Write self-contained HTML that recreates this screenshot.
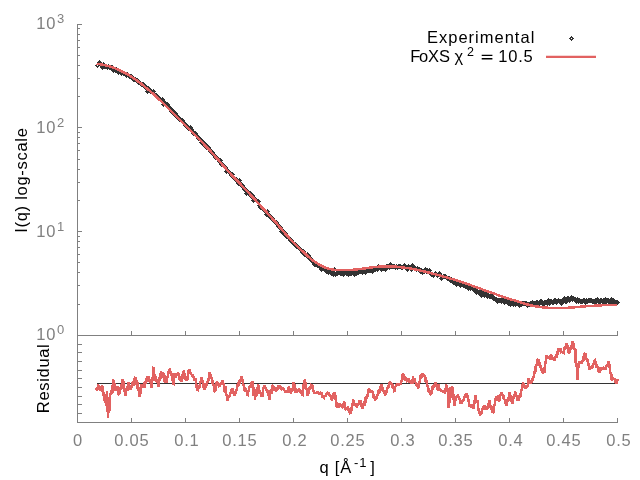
<!DOCTYPE html>
<html><head><meta charset="utf-8"><title>FoXS fit</title>
<style>html,body{margin:0;padding:0;background:#fff;}body{width:640px;height:480px;overflow:hidden;font-family:"Liberation Sans",sans-serif;}svg{display:block;will-change:transform;}</style>
</head><body>
<svg width="640" height="480" viewBox="0 0 640 480" font-family="'Liberation Sans', sans-serif">
<rect width="640" height="480" fill="#ffffff"/>
<g shape-rendering="crispEdges"><line x1="77.50" y1="23.70" x2="77.50" y2="422.80" stroke="#808080" stroke-width="1"/><line x1="77.00" y1="335.30" x2="618.00" y2="335.30" stroke="#808080" stroke-width="1"/><line x1="77.00" y1="422.30" x2="618.00" y2="422.30" stroke="#808080" stroke-width="1"/><line x1="77.50" y1="335.30" x2="82.00" y2="335.30" stroke="#808080" stroke-width="1"/><line x1="77.50" y1="304.08" x2="80.00" y2="304.08" stroke="#808080" stroke-width="1"/><line x1="77.50" y1="285.82" x2="80.00" y2="285.82" stroke="#808080" stroke-width="1"/><line x1="77.50" y1="272.87" x2="80.00" y2="272.87" stroke="#808080" stroke-width="1"/><line x1="77.50" y1="262.82" x2="80.00" y2="262.82" stroke="#808080" stroke-width="1"/><line x1="77.50" y1="254.61" x2="80.00" y2="254.61" stroke="#808080" stroke-width="1"/><line x1="77.50" y1="247.66" x2="80.00" y2="247.66" stroke="#808080" stroke-width="1"/><line x1="77.50" y1="241.65" x2="80.00" y2="241.65" stroke="#808080" stroke-width="1"/><line x1="77.50" y1="236.35" x2="80.00" y2="236.35" stroke="#808080" stroke-width="1"/><line x1="77.50" y1="231.60" x2="82.00" y2="231.60" stroke="#808080" stroke-width="1"/><line x1="77.50" y1="200.38" x2="80.00" y2="200.38" stroke="#808080" stroke-width="1"/><line x1="77.50" y1="182.12" x2="80.00" y2="182.12" stroke="#808080" stroke-width="1"/><line x1="77.50" y1="169.17" x2="80.00" y2="169.17" stroke="#808080" stroke-width="1"/><line x1="77.50" y1="159.12" x2="80.00" y2="159.12" stroke="#808080" stroke-width="1"/><line x1="77.50" y1="150.91" x2="80.00" y2="150.91" stroke="#808080" stroke-width="1"/><line x1="77.50" y1="143.96" x2="80.00" y2="143.96" stroke="#808080" stroke-width="1"/><line x1="77.50" y1="137.95" x2="80.00" y2="137.95" stroke="#808080" stroke-width="1"/><line x1="77.50" y1="132.65" x2="80.00" y2="132.65" stroke="#808080" stroke-width="1"/><line x1="77.50" y1="127.90" x2="82.00" y2="127.90" stroke="#808080" stroke-width="1"/><line x1="77.50" y1="96.68" x2="80.00" y2="96.68" stroke="#808080" stroke-width="1"/><line x1="77.50" y1="78.42" x2="80.00" y2="78.42" stroke="#808080" stroke-width="1"/><line x1="77.50" y1="65.47" x2="80.00" y2="65.47" stroke="#808080" stroke-width="1"/><line x1="77.50" y1="55.42" x2="80.00" y2="55.42" stroke="#808080" stroke-width="1"/><line x1="77.50" y1="47.21" x2="80.00" y2="47.21" stroke="#808080" stroke-width="1"/><line x1="77.50" y1="40.26" x2="80.00" y2="40.26" stroke="#808080" stroke-width="1"/><line x1="77.50" y1="34.25" x2="80.00" y2="34.25" stroke="#808080" stroke-width="1"/><line x1="77.50" y1="28.95" x2="80.00" y2="28.95" stroke="#808080" stroke-width="1"/><line x1="77.50" y1="24.20" x2="82.00" y2="24.20" stroke="#808080" stroke-width="1"/><line x1="77.50" y1="344.00" x2="82.00" y2="344.00" stroke="#808080" stroke-width="1"/><line x1="77.50" y1="352.70" x2="82.00" y2="352.70" stroke="#808080" stroke-width="1"/><line x1="77.50" y1="361.40" x2="82.00" y2="361.40" stroke="#808080" stroke-width="1"/><line x1="77.50" y1="370.10" x2="82.00" y2="370.10" stroke="#808080" stroke-width="1"/><line x1="77.50" y1="378.80" x2="82.00" y2="378.80" stroke="#808080" stroke-width="1"/><line x1="77.50" y1="387.50" x2="82.00" y2="387.50" stroke="#808080" stroke-width="1"/><line x1="77.50" y1="396.20" x2="82.00" y2="396.20" stroke="#808080" stroke-width="1"/><line x1="77.50" y1="404.90" x2="82.00" y2="404.90" stroke="#808080" stroke-width="1"/><line x1="77.50" y1="413.60" x2="82.00" y2="413.60" stroke="#808080" stroke-width="1"/><line x1="131.50" y1="335.30" x2="131.50" y2="330.80" stroke="#808080" stroke-width="1"/><line x1="131.50" y1="422.30" x2="131.50" y2="417.80" stroke="#808080" stroke-width="1"/><line x1="185.50" y1="335.30" x2="185.50" y2="330.80" stroke="#808080" stroke-width="1"/><line x1="185.50" y1="422.30" x2="185.50" y2="417.80" stroke="#808080" stroke-width="1"/><line x1="239.50" y1="335.30" x2="239.50" y2="330.80" stroke="#808080" stroke-width="1"/><line x1="239.50" y1="422.30" x2="239.50" y2="417.80" stroke="#808080" stroke-width="1"/><line x1="293.50" y1="335.30" x2="293.50" y2="330.80" stroke="#808080" stroke-width="1"/><line x1="293.50" y1="422.30" x2="293.50" y2="417.80" stroke="#808080" stroke-width="1"/><line x1="347.50" y1="335.30" x2="347.50" y2="330.80" stroke="#808080" stroke-width="1"/><line x1="347.50" y1="422.30" x2="347.50" y2="417.80" stroke="#808080" stroke-width="1"/><line x1="401.50" y1="335.30" x2="401.50" y2="330.80" stroke="#808080" stroke-width="1"/><line x1="401.50" y1="422.30" x2="401.50" y2="417.80" stroke="#808080" stroke-width="1"/><line x1="455.50" y1="335.30" x2="455.50" y2="330.80" stroke="#808080" stroke-width="1"/><line x1="455.50" y1="422.30" x2="455.50" y2="417.80" stroke="#808080" stroke-width="1"/><line x1="509.50" y1="335.30" x2="509.50" y2="330.80" stroke="#808080" stroke-width="1"/><line x1="509.50" y1="422.30" x2="509.50" y2="417.80" stroke="#808080" stroke-width="1"/><line x1="563.50" y1="335.30" x2="563.50" y2="330.80" stroke="#808080" stroke-width="1"/><line x1="563.50" y1="422.30" x2="563.50" y2="417.80" stroke="#808080" stroke-width="1"/><line x1="617.50" y1="335.30" x2="617.50" y2="330.80" stroke="#808080" stroke-width="1"/><line x1="617.50" y1="422.30" x2="617.50" y2="417.80" stroke="#808080" stroke-width="1"/></g>
<line x1="97" y1="383.5" x2="618" y2="383.5" stroke="#333333" stroke-width="1" shape-rendering="crispEdges"/>
<path d="M96.60,388.24 L96.60,390.30 L97.35,389.61 L98.10,385.49 L98.40,384.70 L98.85,387.86 L99.60,387.12 L100.30,391.25 L100.35,390.39 L101.10,386.66 L101.85,391.94 L102.20,385.60 L102.60,387.79 L103.35,392.96 L104.00,396.90 L104.10,393.13 L104.85,402.26 L105.60,398.74 L105.90,406.25 L106.35,402.67 L106.90,391.25 L107.10,396.05 L107.85,413.61 L108.00,418.40 L108.60,406.32 L109.35,410.48 L109.70,396.90 L110.10,395.45 L110.85,392.94 L111.60,389.81 L111.60,393.10 L112.35,392.14 L113.10,379.11 L113.40,380.90 L113.85,387.60 L114.60,383.33 L115.30,391.25 L115.35,390.90 L116.10,387.47 L116.85,389.35 L117.20,386.60 L117.60,387.28 L118.35,394.17 L119.00,395.00 L119.10,392.26 L119.85,393.27 L120.60,387.13 L121.00,389.40 L121.35,388.03 L122.10,380.58 L122.80,379.00 L122.85,384.03 L123.60,381.11 L124.35,390.55 L125.10,390.29 L125.60,396.00 L125.85,394.26 L126.60,388.11 L127.35,390.87 L128.10,381.79 L128.40,382.80 L128.85,388.73 L129.60,384.96 L130.30,389.40 L130.35,388.91 L131.10,385.79 L131.85,387.79 L132.60,382.39 L133.10,385.60 L133.35,385.26 L134.10,377.75 L134.85,382.07 L135.60,376.60 L135.60,377.73 L136.35,385.06 L137.10,379.91 L137.80,389.40 L137.85,390.99 L138.60,387.22 L139.35,396.88 L139.70,396.00 L140.10,391.08 L140.85,394.09 L141.60,383.75 L141.60,384.55 L142.35,385.26 L143.10,385.01 L143.85,386.41 L144.40,386.60 L144.60,382.60 L145.35,383.33 L146.10,380.06 L146.25,378.10 L146.85,382.32 L147.60,377.20 L148.35,377.70 L149.00,376.60 L149.10,377.73 L149.85,382.16 L150.60,381.46 L151.35,386.62 L151.90,387.50 L152.10,377.00 L152.85,381.19 L153.40,367.80 L153.60,366.67 L154.35,377.09 L155.10,373.87 L155.60,380.00 L155.85,381.62 L156.60,379.48 L157.35,382.45 L158.10,383.77 L158.40,386.60 L158.85,385.91 L159.60,376.70 L160.35,379.00 L160.90,371.60 L161.10,372.93 L161.85,373.85 L162.60,373.39 L163.10,375.30 L163.35,377.52 L164.10,373.59 L164.85,382.49 L165.60,376.97 L165.90,381.90 L166.35,382.83 L167.10,376.79 L167.85,376.70 L168.60,371.11 L169.35,372.49 L169.70,368.75 L170.10,369.65 L170.85,374.99 L171.60,374.78 L172.35,381.24 L173.10,380.15 L173.40,383.75 L173.85,383.95 L174.60,373.23 L175.30,374.40 L175.35,377.57 L176.10,374.23 L176.85,376.00 L177.60,373.76 L178.10,373.40 L178.35,374.10 L179.10,374.72 L179.85,380.30 L180.60,379.41 L180.90,381.90 L181.35,381.13 L182.10,374.21 L182.85,378.56 L183.60,374.15 L183.75,370.60 L184.35,373.21 L185.10,374.43 L185.85,380.18 L186.60,377.64 L186.60,380.90 L187.35,379.58 L188.10,373.82 L188.40,370.60 L188.85,372.79 L189.60,369.51 L190.35,373.33 L191.10,373.43 L191.85,375.38 L192.20,375.30 L192.60,375.33 L193.35,377.06 L194.10,377.03 L194.85,380.79 L195.00,378.10 L195.60,379.41 L196.35,387.70 L197.10,384.62 L197.80,391.25 L197.85,391.09 L198.60,386.59 L199.35,388.17 L200.10,382.93 L200.85,381.49 L201.60,377.20 L201.60,377.76 L202.35,381.58 L203.10,381.25 L203.85,388.53 L204.60,386.80 L204.70,389.80 L205.35,388.02 L206.10,383.78 L206.85,385.47 L207.40,381.50 L207.60,381.67 L208.35,380.69 L209.10,376.57 L209.75,372.50 L209.85,373.67 L210.60,375.44 L211.35,378.87 L212.10,377.49 L212.20,380.00 L212.85,384.28 L213.60,384.81 L214.35,390.78 L215.00,392.20 L215.10,388.73 L215.85,390.81 L216.60,381.66 L216.90,382.80 L217.35,384.98 L218.10,384.04 L218.85,385.85 L219.60,385.21 L219.70,386.60 L220.35,384.44 L221.10,382.19 L221.85,383.15 L222.60,380.55 L222.90,380.00 L223.35,383.23 L224.10,386.03 L224.85,392.53 L225.30,388.40 L225.60,386.17 L226.35,394.87 L227.10,394.80 L227.75,400.60 L227.85,398.05 L228.60,397.57 L229.35,396.75 L230.00,395.00 L230.10,391.76 L230.85,394.18 L231.60,389.93 L232.35,390.40 L232.80,388.40 L233.10,391.99 L233.85,393.82 L234.60,391.07 L234.70,395.90 L235.35,393.80 L236.10,389.63 L236.85,390.78 L237.50,385.60 L237.60,385.09 L238.35,385.58 L239.10,380.06 L239.75,383.75 L239.85,383.42 L240.60,379.26 L241.35,380.30 L241.60,376.60 L242.10,377.69 L242.85,382.32 L243.60,385.20 L244.00,385.60 L244.35,391.36 L245.10,387.28 L245.85,391.66 L246.60,390.81 L247.35,394.72 L247.80,395.00 L248.10,391.29 L248.85,391.04 L249.60,385.73 L249.70,386.60 L250.35,387.81 L251.10,382.44 L251.85,383.23 L252.50,380.90 L252.60,382.08 L253.35,396.00 L254.10,387.55 L254.85,396.90 L254.90,399.70 L255.60,394.82 L256.35,395.41 L257.10,386.96 L257.85,388.42 L258.10,384.70 L258.60,385.80 L259.35,392.34 L260.10,391.95 L260.85,394.03 L260.90,396.90 L261.60,393.34 L262.35,397.18 L263.10,388.10 L263.85,388.16 L264.60,386.10 L264.70,385.60 L265.35,387.82 L266.10,387.88 L266.85,391.36 L267.50,391.25 L267.60,391.24 L268.35,395.65 L269.10,392.96 L269.75,399.70 L269.85,397.98 L270.60,390.10 L271.35,393.51 L272.10,386.11 L272.20,384.70 L272.85,387.04 L273.60,385.92 L274.35,389.05 L275.10,388.87 L275.85,390.98 L275.90,391.25 L276.60,389.23 L277.35,390.04 L278.10,386.96 L278.85,387.47 L279.60,385.86 L279.70,385.60 L280.35,386.71 L281.10,388.81 L281.85,390.03 L282.60,387.82 L283.35,389.98 L283.40,389.40 L284.10,389.57 L284.85,391.48 L285.60,391.50 L286.35,390.25 L286.60,393.10 L287.10,390.44 L287.85,392.57 L288.60,387.65 L289.00,386.60 L289.35,389.70 L290.10,388.86 L290.85,393.07 L291.00,394.00 L291.60,388.72 L292.35,391.08 L293.10,386.09 L293.75,381.90 L293.85,387.10 L294.60,384.05 L295.35,392.42 L296.10,387.72 L296.60,392.20 L296.85,391.81 L297.60,390.92 L298.35,390.93 L299.10,389.60 L299.40,389.40 L299.85,391.40 L300.60,391.21 L301.35,393.94 L302.10,391.30 L302.20,395.00 L302.85,395.29 L303.60,384.08 L304.35,389.12 L304.60,380.90 L305.10,379.60 L305.85,389.33 L306.60,388.27 L307.35,393.65 L307.80,395.90 L308.10,391.31 L308.85,393.45 L309.60,387.55 L310.35,388.57 L311.10,384.75 L311.50,383.90 L311.85,386.81 L312.60,385.43 L313.35,390.89 L314.10,392.26 L314.50,393.10 L314.85,392.92 L315.60,392.78 L316.35,392.83 L317.10,392.43 L317.85,392.58 L318.40,392.20 L318.60,392.56 L319.35,393.66 L320.10,393.53 L320.85,391.90 L321.25,395.00 L321.60,392.62 L322.35,396.66 L323.10,396.54 L323.85,397.66 L324.00,397.80 L324.60,395.66 L325.35,396.81 L326.10,393.35 L326.85,394.34 L326.90,393.10 L327.60,392.45 L328.35,393.35 L328.75,392.20 L329.10,392.89 L329.85,396.36 L330.60,395.57 L331.35,399.48 L331.60,399.70 L332.10,397.28 L332.85,398.24 L333.60,393.26 L334.35,396.74 L334.40,392.20 L335.10,393.68 L335.85,401.12 L336.60,402.55 L336.60,407.20 L337.35,406.54 L338.10,404.56 L338.85,407.54 L339.00,403.40 L339.60,403.85 L340.35,405.78 L341.10,405.38 L341.85,406.72 L341.90,407.20 L342.60,407.29 L343.35,405.10 L343.75,403.40 L344.10,400.86 L344.85,406.60 L345.60,409.43 L346.35,409.13 L346.60,410.00 L347.10,409.16 L347.85,406.49 L348.40,409.00 L348.60,409.15 L349.35,411.51 L350.10,413.26 L350.85,412.88 L350.90,413.75 L351.60,408.19 L352.35,405.71 L353.10,401.05 L353.50,399.70 L353.85,402.70 L354.60,403.89 L355.35,404.88 L356.10,403.82 L356.85,407.08 L356.90,407.20 L357.60,404.47 L358.35,404.54 L359.10,401.91 L359.70,400.60 L359.85,403.02 L360.60,400.10 L361.35,406.61 L362.10,406.04 L362.85,408.76 L362.90,409.00 L363.60,403.44 L364.35,405.88 L365.10,397.59 L365.30,402.50 L365.85,400.64 L366.60,396.62 L367.35,397.21 L368.10,391.88 L368.50,390.30 L368.85,388.80 L369.60,390.30 L370.35,392.84 L371.10,390.36 L371.85,392.00 L371.90,390.30 L372.60,391.59 L373.35,395.80 L374.10,395.39 L374.85,399.36 L375.25,400.60 L375.60,396.22 L376.35,399.25 L377.10,394.63 L377.85,395.60 L378.40,393.10 L378.60,390.29 L379.35,392.53 L380.10,386.87 L380.85,386.68 L381.25,384.10 L381.60,387.75 L382.35,389.51 L383.10,389.05 L383.85,391.92 L384.60,392.85 L385.00,395.90 L385.35,394.61 L386.10,390.52 L386.85,392.55 L387.60,386.73 L387.80,387.50 L388.35,387.26 L389.10,384.20 L389.85,382.40 L390.60,382.34 L391.00,381.90 L391.35,384.65 L392.10,382.86 L392.85,388.21 L393.60,387.12 L394.35,392.40 L394.40,390.30 L395.10,386.97 L395.85,386.25 L396.60,384.68 L397.20,383.75 L397.35,382.96 L398.10,386.07 L398.85,384.32 L399.60,384.27 L400.35,384.26 L400.90,384.70 L401.10,380.46 L401.85,381.53 L402.60,374.80 L402.80,373.40 L403.35,375.50 L404.10,374.70 L404.85,380.42 L405.60,377.46 L406.35,379.75 L406.60,380.00 L407.10,381.31 L407.85,381.18 L408.60,378.46 L409.35,382.02 L410.10,381.93 L410.85,382.60 L411.25,382.80 L411.60,379.77 L412.35,383.69 L413.10,376.24 L413.10,377.20 L413.85,380.09 L414.60,378.76 L415.35,383.01 L416.10,382.12 L416.85,386.77 L417.60,385.47 L417.80,387.50 L418.35,387.67 L419.10,381.27 L419.85,383.12 L420.60,375.55 L421.35,377.89 L421.90,373.40 L422.10,373.61 L422.85,375.08 L423.60,374.61 L424.35,376.24 L424.90,377.00 L425.10,375.56 L425.85,382.38 L426.60,380.48 L427.35,387.06 L427.40,385.20 L428.10,386.35 L428.85,392.27 L429.60,390.22 L430.35,394.29 L430.90,395.00 L431.10,391.19 L431.85,393.54 L432.60,386.24 L433.10,385.60 L433.35,388.13 L434.10,385.21 L434.85,385.26 L435.60,382.48 L436.35,385.11 L436.90,384.70 L437.10,384.92 L437.85,390.35 L438.60,384.42 L439.35,389.51 L440.10,388.37 L440.60,390.30 L440.85,390.70 L441.60,390.64 L442.35,391.34 L443.10,391.33 L443.85,391.99 L444.40,392.20 L444.60,389.64 L445.35,391.20 L446.10,385.99 L446.80,384.70 L446.85,392.08 L447.60,388.15 L448.35,403.56 L448.70,408.10 L449.10,397.28 L449.85,402.63 L450.40,387.50 L450.60,388.42 L451.35,388.06 L452.10,386.71 L452.25,386.60 L452.85,400.03 L453.60,393.81 L454.10,406.25 L454.35,405.17 L455.10,401.23 L455.85,399.76 L456.60,396.71 L457.35,397.88 L457.50,395.00 L458.10,395.48 L458.85,398.61 L459.60,398.71 L460.35,402.05 L461.10,401.36 L461.25,403.40 L461.85,402.57 L462.60,400.06 L463.35,401.10 L464.10,397.22 L464.10,398.75 L464.85,396.33 L465.60,394.97 L466.35,395.07 L466.90,393.10 L467.10,394.06 L467.85,398.39 L468.60,400.64 L469.35,405.33 L469.70,405.30 L470.10,404.04 L470.85,407.22 L471.60,404.36 L472.35,408.23 L473.10,405.87 L473.40,409.00 L473.85,405.95 L474.60,401.55 L475.35,401.73 L475.70,395.00 L476.10,400.21 L476.85,402.05 L477.60,400.35 L478.10,406.25 L478.35,409.51 L479.10,409.46 L479.85,414.84 L480.00,416.00 L480.60,413.25 L481.35,413.81 L482.10,408.75 L482.85,410.03 L483.60,406.39 L483.75,406.25 L484.35,408.05 L485.10,407.37 L485.85,409.45 L486.60,406.07 L486.60,410.00 L487.35,408.25 L488.10,403.77 L488.85,405.21 L489.60,400.73 L489.75,400.60 L490.35,407.45 L491.10,404.83 L491.85,410.09 L492.60,407.13 L492.60,412.80 L493.35,412.28 L494.10,405.75 L494.85,404.74 L495.60,398.55 L496.30,395.90 L496.35,398.79 L497.10,396.31 L497.85,400.93 L498.60,395.23 L498.75,399.70 L499.35,401.34 L500.10,394.17 L500.85,395.70 L501.60,392.20 L501.60,392.29 L502.35,395.53 L503.10,394.49 L503.85,399.05 L504.40,399.70 L504.60,398.86 L505.35,403.37 L506.10,402.47 L506.80,406.25 L506.85,405.03 L507.60,399.14 L508.35,401.10 L509.10,394.68 L509.60,392.20 L509.85,395.83 L510.60,395.20 L511.35,402.26 L512.10,399.60 L512.25,403.40 L512.85,402.70 L513.60,396.20 L514.35,397.16 L515.10,391.29 L515.25,392.20 L515.85,397.20 L516.60,394.80 L517.35,399.50 L517.50,400.60 L518.10,398.76 L518.85,399.10 L519.60,396.17 L520.30,396.00 L520.35,396.51 L521.10,389.51 L521.85,390.53 L522.60,385.57 L522.90,383.75 L523.35,383.35 L524.10,384.78 L524.85,385.81 L525.50,388.50 L525.60,386.34 L526.35,387.30 L527.10,386.52 L527.85,386.00 L528.50,380.50 L528.60,377.90 L529.35,381.22 L530.10,383.98 L530.85,381.63 L531.40,381.90 L531.60,379.96 L532.35,380.78 L533.10,375.75 L533.50,377.20 L533.85,377.79 L534.60,370.69 L535.35,371.84 L535.60,367.40 L536.10,364.17 L536.85,365.23 L537.60,359.97 L538.30,359.40 L538.35,361.58 L539.10,360.60 L539.85,366.55 L540.60,364.79 L540.60,366.90 L541.35,370.78 L542.10,369.51 L542.85,373.38 L542.90,374.40 L543.60,367.68 L544.35,373.22 L545.10,361.44 L545.30,363.10 L545.85,363.72 L546.60,355.43 L547.20,356.60 L547.35,358.36 L548.10,357.26 L548.85,356.29 L549.60,358.78 L549.60,359.40 L550.35,358.15 L550.90,354.70 L551.10,355.10 L551.85,357.13 L552.60,359.04 L553.35,359.34 L554.10,358.51 L554.70,360.30 L554.85,360.04 L555.60,356.82 L556.35,357.70 L557.10,350.74 L557.50,353.75 L557.85,354.68 L558.60,348.46 L559.35,351.15 L560.10,348.47 L560.30,348.10 L560.85,352.23 L561.60,351.79 L562.35,352.14 L563.10,351.75 L563.50,353.75 L563.85,353.42 L564.60,346.84 L565.35,348.97 L566.10,343.85 L566.30,343.40 L566.85,348.08 L567.60,345.68 L568.35,351.75 L569.10,351.42 L569.10,353.75 L569.85,351.61 L570.60,347.82 L571.35,348.24 L572.10,341.71 L572.85,342.93 L572.90,341.00 L573.60,344.70 L574.35,349.10 L575.10,349.89 L575.30,350.00 L575.85,365.75 L576.60,362.88 L577.20,378.10 L577.35,379.90 L578.10,366.59 L578.85,368.29 L579.10,361.25 L579.60,361.87 L580.35,363.13 L581.10,362.66 L581.85,363.54 L581.90,364.10 L582.60,360.63 L583.35,360.34 L584.10,353.42 L584.85,354.99 L585.10,353.75 L585.60,353.10 L586.35,359.28 L587.10,358.11 L587.85,362.16 L588.40,364.10 L588.60,365.34 L589.35,369.73 L590.10,366.39 L590.85,368.01 L591.25,368.75 L591.60,366.95 L592.35,367.77 L593.10,362.82 L593.85,364.25 L594.60,360.57 L595.00,360.30 L595.35,362.97 L596.10,362.40 L596.85,368.10 L597.60,365.89 L598.35,371.58 L599.10,370.54 L599.10,372.50 L599.85,371.80 L600.60,366.83 L601.35,369.59 L602.10,368.85 L602.50,366.90 L602.85,367.84 L603.60,367.62 L604.35,369.32 L605.10,368.20 L605.30,369.70 L605.85,368.37 L606.60,364.90 L607.35,366.13 L608.10,362.54 L608.50,361.25 L608.85,368.05 L609.60,363.75 L610.35,373.02 L610.40,373.40 L611.10,372.74 L611.85,380.67 L612.60,379.18 L612.80,378.10 L613.35,378.50 L614.10,378.74 L614.70,379.00 L614.85,381.14 L615.60,380.66 L616.35,382.65 L616.60,383.75 L617.10,382.78 L617.50,379.00" fill="none" stroke="#e26261" stroke-width="2.5" stroke-linejoin="miter" stroke-miterlimit="2" shape-rendering="crispEdges"/>
<path d="M95.0,65.5 l2.5,-2.5 l2.5,2.5 l-2.5,2.5 zM97.0,62.5 l2.5,-2.5 l2.5,2.5 l-2.5,2.5 zM98.0,64.5 l2.5,-2.5 l2.5,2.5 l-2.5,2.5 zM99.0,65.5 l2.5,-2.5 l2.5,2.5 l-2.5,2.5 zM100.0,67.5 l2.5,-2.5 l2.5,2.5 l-2.5,2.5 zM101.0,64.5 l2.5,-2.5 l2.5,2.5 l-2.5,2.5 zM102.0,66.5 l2.5,-2.5 l2.5,2.5 l-2.5,2.5 zM103.0,66.5 l2.5,-2.5 l2.5,2.5 l-2.5,2.5 zM104.0,66.5 l2.5,-2.5 l2.5,2.5 l-2.5,2.5 zM105.0,67.5 l2.5,-2.5 l2.5,2.5 l-2.5,2.5 zM106.0,66.5 l2.5,-2.5 l2.5,2.5 l-2.5,2.5 zM107.0,67.5 l2.5,-2.5 l2.5,2.5 l-2.5,2.5 zM108.0,67.5 l2.5,-2.5 l2.5,2.5 l-2.5,2.5 zM109.0,67.5 l2.5,-2.5 l2.5,2.5 l-2.5,2.5 zM110.0,67.5 l2.5,-2.5 l2.5,2.5 l-2.5,2.5 zM111.0,70.5 l2.5,-2.5 l2.5,2.5 l-2.5,2.5 zM112.0,69.5 l2.5,-2.5 l2.5,2.5 l-2.5,2.5 zM113.0,70.5 l2.5,-2.5 l2.5,2.5 l-2.5,2.5 zM114.0,69.5 l2.5,-2.5 l2.5,2.5 l-2.5,2.5 zM115.0,70.5 l2.5,-2.5 l2.5,2.5 l-2.5,2.5 zM116.0,72.5 l2.5,-2.5 l2.5,2.5 l-2.5,2.5 zM117.0,71.5 l2.5,-2.5 l2.5,2.5 l-2.5,2.5 zM118.0,72.5 l2.5,-2.5 l2.5,2.5 l-2.5,2.5 zM119.0,73.5 l2.5,-2.5 l2.5,2.5 l-2.5,2.5 zM120.0,72.5 l2.5,-2.5 l2.5,2.5 l-2.5,2.5 zM121.0,73.5 l2.5,-2.5 l2.5,2.5 l-2.5,2.5 zM122.0,73.5 l2.5,-2.5 l2.5,2.5 l-2.5,2.5 zM123.0,74.5 l2.5,-2.5 l2.5,2.5 l-2.5,2.5 zM124.0,75.5 l2.5,-2.5 l2.5,2.5 l-2.5,2.5 zM125.0,74.5 l2.5,-2.5 l2.5,2.5 l-2.5,2.5 zM126.0,75.5 l2.5,-2.5 l2.5,2.5 l-2.5,2.5 zM127.0,76.5 l2.5,-2.5 l2.5,2.5 l-2.5,2.5 zM128.0,76.5 l2.5,-2.5 l2.5,2.5 l-2.5,2.5 zM129.0,76.5 l2.5,-2.5 l2.5,2.5 l-2.5,2.5 zM130.0,77.5 l2.5,-2.5 l2.5,2.5 l-2.5,2.5 zM131.0,79.5 l2.5,-2.5 l2.5,2.5 l-2.5,2.5 zM132.0,79.5 l2.5,-2.5 l2.5,2.5 l-2.5,2.5 zM133.0,79.5 l2.5,-2.5 l2.5,2.5 l-2.5,2.5 zM134.0,80.5 l2.5,-2.5 l2.5,2.5 l-2.5,2.5 zM135.0,80.5 l2.5,-2.5 l2.5,2.5 l-2.5,2.5 zM136.0,82.5 l2.5,-2.5 l2.5,2.5 l-2.5,2.5 zM137.0,82.5 l2.5,-2.5 l2.5,2.5 l-2.5,2.5 zM138.0,83.5 l2.5,-2.5 l2.5,2.5 l-2.5,2.5 zM139.0,84.5 l2.5,-2.5 l2.5,2.5 l-2.5,2.5 zM140.0,84.5 l2.5,-2.5 l2.5,2.5 l-2.5,2.5 zM141.0,84.5 l2.5,-2.5 l2.5,2.5 l-2.5,2.5 zM142.0,86.5 l2.5,-2.5 l2.5,2.5 l-2.5,2.5 zM143.0,86.5 l2.5,-2.5 l2.5,2.5 l-2.5,2.5 zM144.0,88.5 l2.5,-2.5 l2.5,2.5 l-2.5,2.5 zM145.0,91.5 l2.5,-2.5 l2.5,2.5 l-2.5,2.5 zM146.0,88.5 l2.5,-2.5 l2.5,2.5 l-2.5,2.5 zM147.0,90.5 l2.5,-2.5 l2.5,2.5 l-2.5,2.5 zM148.0,91.5 l2.5,-2.5 l2.5,2.5 l-2.5,2.5 zM149.0,91.5 l2.5,-2.5 l2.5,2.5 l-2.5,2.5 zM150.0,92.5 l2.5,-2.5 l2.5,2.5 l-2.5,2.5 zM151.0,91.5 l2.5,-2.5 l2.5,2.5 l-2.5,2.5 zM152.0,94.5 l2.5,-2.5 l2.5,2.5 l-2.5,2.5 zM153.0,95.5 l2.5,-2.5 l2.5,2.5 l-2.5,2.5 zM154.0,95.5 l2.5,-2.5 l2.5,2.5 l-2.5,2.5 zM155.0,97.5 l2.5,-2.5 l2.5,2.5 l-2.5,2.5 zM156.0,98.5 l2.5,-2.5 l2.5,2.5 l-2.5,2.5 zM157.0,98.5 l2.5,-2.5 l2.5,2.5 l-2.5,2.5 zM158.0,99.5 l2.5,-2.5 l2.5,2.5 l-2.5,2.5 zM159.0,100.5 l2.5,-2.5 l2.5,2.5 l-2.5,2.5 zM160.0,99.5 l2.5,-2.5 l2.5,2.5 l-2.5,2.5 zM161.0,104.5 l2.5,-2.5 l2.5,2.5 l-2.5,2.5 zM162.0,102.5 l2.5,-2.5 l2.5,2.5 l-2.5,2.5 zM163.0,104.5 l2.5,-2.5 l2.5,2.5 l-2.5,2.5 zM164.0,105.5 l2.5,-2.5 l2.5,2.5 l-2.5,2.5 zM165.0,104.5 l2.5,-2.5 l2.5,2.5 l-2.5,2.5 zM166.0,107.5 l2.5,-2.5 l2.5,2.5 l-2.5,2.5 zM167.0,107.5 l2.5,-2.5 l2.5,2.5 l-2.5,2.5 zM168.0,108.5 l2.5,-2.5 l2.5,2.5 l-2.5,2.5 zM169.0,111.5 l2.5,-2.5 l2.5,2.5 l-2.5,2.5 zM170.0,111.5 l2.5,-2.5 l2.5,2.5 l-2.5,2.5 zM171.0,111.5 l2.5,-2.5 l2.5,2.5 l-2.5,2.5 zM172.0,114.5 l2.5,-2.5 l2.5,2.5 l-2.5,2.5 zM173.0,113.5 l2.5,-2.5 l2.5,2.5 l-2.5,2.5 zM174.0,115.5 l2.5,-2.5 l2.5,2.5 l-2.5,2.5 zM175.0,117.5 l2.5,-2.5 l2.5,2.5 l-2.5,2.5 zM176.0,117.5 l2.5,-2.5 l2.5,2.5 l-2.5,2.5 zM177.0,119.5 l2.5,-2.5 l2.5,2.5 l-2.5,2.5 zM178.0,119.5 l2.5,-2.5 l2.5,2.5 l-2.5,2.5 zM179.0,120.5 l2.5,-2.5 l2.5,2.5 l-2.5,2.5 zM180.0,120.5 l2.5,-2.5 l2.5,2.5 l-2.5,2.5 zM181.0,122.5 l2.5,-2.5 l2.5,2.5 l-2.5,2.5 zM182.0,123.5 l2.5,-2.5 l2.5,2.5 l-2.5,2.5 zM183.0,125.5 l2.5,-2.5 l2.5,2.5 l-2.5,2.5 zM184.0,126.5 l2.5,-2.5 l2.5,2.5 l-2.5,2.5 zM185.0,126.5 l2.5,-2.5 l2.5,2.5 l-2.5,2.5 zM186.0,128.5 l2.5,-2.5 l2.5,2.5 l-2.5,2.5 zM187.0,128.5 l2.5,-2.5 l2.5,2.5 l-2.5,2.5 zM188.0,127.5 l2.5,-2.5 l2.5,2.5 l-2.5,2.5 zM189.0,129.5 l2.5,-2.5 l2.5,2.5 l-2.5,2.5 zM190.0,131.5 l2.5,-2.5 l2.5,2.5 l-2.5,2.5 zM191.0,133.5 l2.5,-2.5 l2.5,2.5 l-2.5,2.5 zM192.0,133.5 l2.5,-2.5 l2.5,2.5 l-2.5,2.5 zM193.0,133.5 l2.5,-2.5 l2.5,2.5 l-2.5,2.5 zM194.0,135.5 l2.5,-2.5 l2.5,2.5 l-2.5,2.5 zM195.0,136.5 l2.5,-2.5 l2.5,2.5 l-2.5,2.5 zM196.0,138.5 l2.5,-2.5 l2.5,2.5 l-2.5,2.5 zM197.0,138.5 l2.5,-2.5 l2.5,2.5 l-2.5,2.5 zM198.0,139.5 l2.5,-2.5 l2.5,2.5 l-2.5,2.5 zM199.0,142.5 l2.5,-2.5 l2.5,2.5 l-2.5,2.5 zM200.0,142.5 l2.5,-2.5 l2.5,2.5 l-2.5,2.5 zM201.0,142.5 l2.5,-2.5 l2.5,2.5 l-2.5,2.5 zM202.0,145.5 l2.5,-2.5 l2.5,2.5 l-2.5,2.5 zM203.0,144.5 l2.5,-2.5 l2.5,2.5 l-2.5,2.5 zM204.0,147.5 l2.5,-2.5 l2.5,2.5 l-2.5,2.5 zM205.0,147.5 l2.5,-2.5 l2.5,2.5 l-2.5,2.5 zM206.0,147.5 l2.5,-2.5 l2.5,2.5 l-2.5,2.5 zM207.0,149.5 l2.5,-2.5 l2.5,2.5 l-2.5,2.5 zM208.0,151.5 l2.5,-2.5 l2.5,2.5 l-2.5,2.5 zM209.0,152.5 l2.5,-2.5 l2.5,2.5 l-2.5,2.5 zM210.0,152.5 l2.5,-2.5 l2.5,2.5 l-2.5,2.5 zM211.0,154.5 l2.5,-2.5 l2.5,2.5 l-2.5,2.5 zM212.0,155.5 l2.5,-2.5 l2.5,2.5 l-2.5,2.5 zM213.0,157.5 l2.5,-2.5 l2.5,2.5 l-2.5,2.5 zM214.0,157.5 l2.5,-2.5 l2.5,2.5 l-2.5,2.5 zM215.0,158.5 l2.5,-2.5 l2.5,2.5 l-2.5,2.5 zM216.0,159.5 l2.5,-2.5 l2.5,2.5 l-2.5,2.5 zM217.0,161.5 l2.5,-2.5 l2.5,2.5 l-2.5,2.5 zM218.0,160.5 l2.5,-2.5 l2.5,2.5 l-2.5,2.5 zM219.0,164.5 l2.5,-2.5 l2.5,2.5 l-2.5,2.5 zM220.0,164.5 l2.5,-2.5 l2.5,2.5 l-2.5,2.5 zM221.0,165.5 l2.5,-2.5 l2.5,2.5 l-2.5,2.5 zM222.0,166.5 l2.5,-2.5 l2.5,2.5 l-2.5,2.5 zM223.0,167.5 l2.5,-2.5 l2.5,2.5 l-2.5,2.5 zM224.0,171.5 l2.5,-2.5 l2.5,2.5 l-2.5,2.5 zM225.0,170.5 l2.5,-2.5 l2.5,2.5 l-2.5,2.5 zM226.0,171.5 l2.5,-2.5 l2.5,2.5 l-2.5,2.5 zM227.0,172.5 l2.5,-2.5 l2.5,2.5 l-2.5,2.5 zM228.0,173.5 l2.5,-2.5 l2.5,2.5 l-2.5,2.5 zM229.0,175.5 l2.5,-2.5 l2.5,2.5 l-2.5,2.5 zM230.0,174.5 l2.5,-2.5 l2.5,2.5 l-2.5,2.5 zM231.0,177.5 l2.5,-2.5 l2.5,2.5 l-2.5,2.5 zM232.0,178.5 l2.5,-2.5 l2.5,2.5 l-2.5,2.5 zM233.0,179.5 l2.5,-2.5 l2.5,2.5 l-2.5,2.5 zM234.0,179.5 l2.5,-2.5 l2.5,2.5 l-2.5,2.5 zM235.0,181.5 l2.5,-2.5 l2.5,2.5 l-2.5,2.5 zM236.0,183.5 l2.5,-2.5 l2.5,2.5 l-2.5,2.5 zM237.0,180.5 l2.5,-2.5 l2.5,2.5 l-2.5,2.5 zM238.0,183.5 l2.5,-2.5 l2.5,2.5 l-2.5,2.5 zM239.0,185.5 l2.5,-2.5 l2.5,2.5 l-2.5,2.5 zM240.0,185.5 l2.5,-2.5 l2.5,2.5 l-2.5,2.5 zM241.0,187.5 l2.5,-2.5 l2.5,2.5 l-2.5,2.5 zM242.0,189.5 l2.5,-2.5 l2.5,2.5 l-2.5,2.5 zM243.0,189.5 l2.5,-2.5 l2.5,2.5 l-2.5,2.5 zM244.0,193.5 l2.5,-2.5 l2.5,2.5 l-2.5,2.5 zM245.0,191.5 l2.5,-2.5 l2.5,2.5 l-2.5,2.5 zM246.0,193.5 l2.5,-2.5 l2.5,2.5 l-2.5,2.5 zM247.0,193.5 l2.5,-2.5 l2.5,2.5 l-2.5,2.5 zM248.0,193.5 l2.5,-2.5 l2.5,2.5 l-2.5,2.5 zM249.0,196.5 l2.5,-2.5 l2.5,2.5 l-2.5,2.5 zM250.0,195.5 l2.5,-2.5 l2.5,2.5 l-2.5,2.5 zM251.0,200.5 l2.5,-2.5 l2.5,2.5 l-2.5,2.5 zM252.0,198.5 l2.5,-2.5 l2.5,2.5 l-2.5,2.5 zM253.0,199.5 l2.5,-2.5 l2.5,2.5 l-2.5,2.5 zM254.0,200.5 l2.5,-2.5 l2.5,2.5 l-2.5,2.5 zM255.0,201.5 l2.5,-2.5 l2.5,2.5 l-2.5,2.5 zM256.0,201.5 l2.5,-2.5 l2.5,2.5 l-2.5,2.5 zM257.0,205.5 l2.5,-2.5 l2.5,2.5 l-2.5,2.5 zM258.0,207.5 l2.5,-2.5 l2.5,2.5 l-2.5,2.5 zM259.0,207.5 l2.5,-2.5 l2.5,2.5 l-2.5,2.5 zM260.0,208.5 l2.5,-2.5 l2.5,2.5 l-2.5,2.5 zM261.0,209.5 l2.5,-2.5 l2.5,2.5 l-2.5,2.5 zM262.0,210.5 l2.5,-2.5 l2.5,2.5 l-2.5,2.5 zM263.0,211.5 l2.5,-2.5 l2.5,2.5 l-2.5,2.5 zM264.0,214.5 l2.5,-2.5 l2.5,2.5 l-2.5,2.5 zM265.0,211.5 l2.5,-2.5 l2.5,2.5 l-2.5,2.5 zM266.0,214.5 l2.5,-2.5 l2.5,2.5 l-2.5,2.5 zM267.0,216.5 l2.5,-2.5 l2.5,2.5 l-2.5,2.5 zM268.0,216.5 l2.5,-2.5 l2.5,2.5 l-2.5,2.5 zM269.0,218.5 l2.5,-2.5 l2.5,2.5 l-2.5,2.5 zM270.0,218.5 l2.5,-2.5 l2.5,2.5 l-2.5,2.5 zM271.0,220.5 l2.5,-2.5 l2.5,2.5 l-2.5,2.5 zM272.0,221.5 l2.5,-2.5 l2.5,2.5 l-2.5,2.5 zM273.0,222.5 l2.5,-2.5 l2.5,2.5 l-2.5,2.5 zM274.0,222.5 l2.5,-2.5 l2.5,2.5 l-2.5,2.5 zM275.0,224.5 l2.5,-2.5 l2.5,2.5 l-2.5,2.5 zM276.0,226.5 l2.5,-2.5 l2.5,2.5 l-2.5,2.5 zM277.0,227.5 l2.5,-2.5 l2.5,2.5 l-2.5,2.5 zM278.0,227.5 l2.5,-2.5 l2.5,2.5 l-2.5,2.5 zM279.0,231.5 l2.5,-2.5 l2.5,2.5 l-2.5,2.5 zM280.0,231.5 l2.5,-2.5 l2.5,2.5 l-2.5,2.5 zM281.0,231.5 l2.5,-2.5 l2.5,2.5 l-2.5,2.5 zM282.0,234.5 l2.5,-2.5 l2.5,2.5 l-2.5,2.5 zM283.0,233.5 l2.5,-2.5 l2.5,2.5 l-2.5,2.5 zM284.0,236.5 l2.5,-2.5 l2.5,2.5 l-2.5,2.5 zM285.0,236.5 l2.5,-2.5 l2.5,2.5 l-2.5,2.5 zM286.0,237.5 l2.5,-2.5 l2.5,2.5 l-2.5,2.5 zM287.0,238.5 l2.5,-2.5 l2.5,2.5 l-2.5,2.5 zM288.0,240.5 l2.5,-2.5 l2.5,2.5 l-2.5,2.5 zM289.0,240.5 l2.5,-2.5 l2.5,2.5 l-2.5,2.5 zM290.0,242.5 l2.5,-2.5 l2.5,2.5 l-2.5,2.5 zM291.0,243.5 l2.5,-2.5 l2.5,2.5 l-2.5,2.5 zM292.0,244.5 l2.5,-2.5 l2.5,2.5 l-2.5,2.5 zM293.0,244.5 l2.5,-2.5 l2.5,2.5 l-2.5,2.5 zM294.0,246.5 l2.5,-2.5 l2.5,2.5 l-2.5,2.5 zM295.0,246.5 l2.5,-2.5 l2.5,2.5 l-2.5,2.5 zM296.0,247.5 l2.5,-2.5 l2.5,2.5 l-2.5,2.5 zM297.0,248.5 l2.5,-2.5 l2.5,2.5 l-2.5,2.5 zM298.0,249.5 l2.5,-2.5 l2.5,2.5 l-2.5,2.5 zM299.0,250.5 l2.5,-2.5 l2.5,2.5 l-2.5,2.5 zM300.0,252.5 l2.5,-2.5 l2.5,2.5 l-2.5,2.5 zM301.0,251.5 l2.5,-2.5 l2.5,2.5 l-2.5,2.5 zM302.0,254.5 l2.5,-2.5 l2.5,2.5 l-2.5,2.5 zM303.0,254.5 l2.5,-2.5 l2.5,2.5 l-2.5,2.5 zM304.0,255.5 l2.5,-2.5 l2.5,2.5 l-2.5,2.5 zM305.0,254.5 l2.5,-2.5 l2.5,2.5 l-2.5,2.5 zM306.0,255.5 l2.5,-2.5 l2.5,2.5 l-2.5,2.5 zM307.0,258.5 l2.5,-2.5 l2.5,2.5 l-2.5,2.5 zM308.0,258.5 l2.5,-2.5 l2.5,2.5 l-2.5,2.5 zM309.0,260.5 l2.5,-2.5 l2.5,2.5 l-2.5,2.5 zM310.0,260.5 l2.5,-2.5 l2.5,2.5 l-2.5,2.5 zM311.0,262.5 l2.5,-2.5 l2.5,2.5 l-2.5,2.5 zM312.0,264.5 l2.5,-2.5 l2.5,2.5 l-2.5,2.5 zM313.0,264.5 l2.5,-2.5 l2.5,2.5 l-2.5,2.5 zM314.0,264.5 l2.5,-2.5 l2.5,2.5 l-2.5,2.5 zM315.0,265.5 l2.5,-2.5 l2.5,2.5 l-2.5,2.5 zM316.0,265.5 l2.5,-2.5 l2.5,2.5 l-2.5,2.5 zM317.0,266.5 l2.5,-2.5 l2.5,2.5 l-2.5,2.5 zM318.0,267.5 l2.5,-2.5 l2.5,2.5 l-2.5,2.5 zM319.0,269.5 l2.5,-2.5 l2.5,2.5 l-2.5,2.5 zM320.0,268.5 l2.5,-2.5 l2.5,2.5 l-2.5,2.5 zM321.0,268.5 l2.5,-2.5 l2.5,2.5 l-2.5,2.5 zM322.0,269.5 l2.5,-2.5 l2.5,2.5 l-2.5,2.5 zM323.0,269.5 l2.5,-2.5 l2.5,2.5 l-2.5,2.5 zM324.0,271.5 l2.5,-2.5 l2.5,2.5 l-2.5,2.5 zM325.0,271.5 l2.5,-2.5 l2.5,2.5 l-2.5,2.5 zM326.0,272.5 l2.5,-2.5 l2.5,2.5 l-2.5,2.5 zM327.0,271.5 l2.5,-2.5 l2.5,2.5 l-2.5,2.5 zM328.0,271.5 l2.5,-2.5 l2.5,2.5 l-2.5,2.5 zM329.0,273.5 l2.5,-2.5 l2.5,2.5 l-2.5,2.5 zM330.0,272.5 l2.5,-2.5 l2.5,2.5 l-2.5,2.5 zM331.0,274.5 l2.5,-2.5 l2.5,2.5 l-2.5,2.5 zM332.0,269.5 l2.5,-2.5 l2.5,2.5 l-2.5,2.5 zM333.0,274.5 l2.5,-2.5 l2.5,2.5 l-2.5,2.5 zM334.0,273.5 l2.5,-2.5 l2.5,2.5 l-2.5,2.5 zM335.0,273.5 l2.5,-2.5 l2.5,2.5 l-2.5,2.5 zM336.0,271.5 l2.5,-2.5 l2.5,2.5 l-2.5,2.5 zM337.0,272.5 l2.5,-2.5 l2.5,2.5 l-2.5,2.5 zM338.0,273.5 l2.5,-2.5 l2.5,2.5 l-2.5,2.5 zM339.0,273.5 l2.5,-2.5 l2.5,2.5 l-2.5,2.5 zM340.0,273.5 l2.5,-2.5 l2.5,2.5 l-2.5,2.5 zM341.0,274.5 l2.5,-2.5 l2.5,2.5 l-2.5,2.5 zM342.0,272.5 l2.5,-2.5 l2.5,2.5 l-2.5,2.5 zM343.0,272.5 l2.5,-2.5 l2.5,2.5 l-2.5,2.5 zM344.0,273.5 l2.5,-2.5 l2.5,2.5 l-2.5,2.5 zM345.0,272.5 l2.5,-2.5 l2.5,2.5 l-2.5,2.5 zM346.0,274.5 l2.5,-2.5 l2.5,2.5 l-2.5,2.5 zM347.0,272.5 l2.5,-2.5 l2.5,2.5 l-2.5,2.5 zM348.0,273.5 l2.5,-2.5 l2.5,2.5 l-2.5,2.5 zM349.0,273.5 l2.5,-2.5 l2.5,2.5 l-2.5,2.5 zM350.0,272.5 l2.5,-2.5 l2.5,2.5 l-2.5,2.5 zM351.0,273.5 l2.5,-2.5 l2.5,2.5 l-2.5,2.5 zM352.0,274.5 l2.5,-2.5 l2.5,2.5 l-2.5,2.5 zM353.0,272.5 l2.5,-2.5 l2.5,2.5 l-2.5,2.5 zM354.0,273.5 l2.5,-2.5 l2.5,2.5 l-2.5,2.5 zM355.0,272.5 l2.5,-2.5 l2.5,2.5 l-2.5,2.5 zM356.0,272.5 l2.5,-2.5 l2.5,2.5 l-2.5,2.5 zM357.0,271.5 l2.5,-2.5 l2.5,2.5 l-2.5,2.5 zM358.0,271.5 l2.5,-2.5 l2.5,2.5 l-2.5,2.5 zM359.0,271.5 l2.5,-2.5 l2.5,2.5 l-2.5,2.5 zM360.0,272.5 l2.5,-2.5 l2.5,2.5 l-2.5,2.5 zM361.0,271.5 l2.5,-2.5 l2.5,2.5 l-2.5,2.5 zM362.0,271.5 l2.5,-2.5 l2.5,2.5 l-2.5,2.5 zM363.0,272.5 l2.5,-2.5 l2.5,2.5 l-2.5,2.5 zM364.0,270.5 l2.5,-2.5 l2.5,2.5 l-2.5,2.5 zM365.0,270.5 l2.5,-2.5 l2.5,2.5 l-2.5,2.5 zM366.0,270.5 l2.5,-2.5 l2.5,2.5 l-2.5,2.5 zM367.0,270.5 l2.5,-2.5 l2.5,2.5 l-2.5,2.5 zM368.0,270.5 l2.5,-2.5 l2.5,2.5 l-2.5,2.5 zM369.0,269.5 l2.5,-2.5 l2.5,2.5 l-2.5,2.5 zM370.0,271.5 l2.5,-2.5 l2.5,2.5 l-2.5,2.5 zM371.0,269.5 l2.5,-2.5 l2.5,2.5 l-2.5,2.5 zM372.0,268.5 l2.5,-2.5 l2.5,2.5 l-2.5,2.5 zM373.0,269.5 l2.5,-2.5 l2.5,2.5 l-2.5,2.5 zM374.0,268.5 l2.5,-2.5 l2.5,2.5 l-2.5,2.5 zM375.0,269.5 l2.5,-2.5 l2.5,2.5 l-2.5,2.5 zM376.0,266.5 l2.5,-2.5 l2.5,2.5 l-2.5,2.5 zM377.0,267.5 l2.5,-2.5 l2.5,2.5 l-2.5,2.5 zM378.0,267.5 l2.5,-2.5 l2.5,2.5 l-2.5,2.5 zM379.0,269.5 l2.5,-2.5 l2.5,2.5 l-2.5,2.5 zM380.0,268.5 l2.5,-2.5 l2.5,2.5 l-2.5,2.5 zM381.0,268.5 l2.5,-2.5 l2.5,2.5 l-2.5,2.5 zM382.0,268.5 l2.5,-2.5 l2.5,2.5 l-2.5,2.5 zM383.0,269.5 l2.5,-2.5 l2.5,2.5 l-2.5,2.5 zM384.0,266.5 l2.5,-2.5 l2.5,2.5 l-2.5,2.5 zM385.0,266.5 l2.5,-2.5 l2.5,2.5 l-2.5,2.5 zM386.0,266.5 l2.5,-2.5 l2.5,2.5 l-2.5,2.5 zM387.0,267.5 l2.5,-2.5 l2.5,2.5 l-2.5,2.5 zM388.0,264.5 l2.5,-2.5 l2.5,2.5 l-2.5,2.5 zM389.0,266.5 l2.5,-2.5 l2.5,2.5 l-2.5,2.5 zM390.0,266.5 l2.5,-2.5 l2.5,2.5 l-2.5,2.5 zM391.0,266.5 l2.5,-2.5 l2.5,2.5 l-2.5,2.5 zM392.0,266.5 l2.5,-2.5 l2.5,2.5 l-2.5,2.5 zM393.0,267.5 l2.5,-2.5 l2.5,2.5 l-2.5,2.5 zM394.0,266.5 l2.5,-2.5 l2.5,2.5 l-2.5,2.5 zM395.0,267.5 l2.5,-2.5 l2.5,2.5 l-2.5,2.5 zM396.0,266.5 l2.5,-2.5 l2.5,2.5 l-2.5,2.5 zM397.0,266.5 l2.5,-2.5 l2.5,2.5 l-2.5,2.5 zM398.0,266.5 l2.5,-2.5 l2.5,2.5 l-2.5,2.5 zM399.0,267.5 l2.5,-2.5 l2.5,2.5 l-2.5,2.5 zM400.0,267.5 l2.5,-2.5 l2.5,2.5 l-2.5,2.5 zM401.0,266.5 l2.5,-2.5 l2.5,2.5 l-2.5,2.5 zM402.0,265.5 l2.5,-2.5 l2.5,2.5 l-2.5,2.5 zM403.0,266.5 l2.5,-2.5 l2.5,2.5 l-2.5,2.5 zM404.0,267.5 l2.5,-2.5 l2.5,2.5 l-2.5,2.5 zM405.0,269.5 l2.5,-2.5 l2.5,2.5 l-2.5,2.5 zM406.0,266.5 l2.5,-2.5 l2.5,2.5 l-2.5,2.5 zM407.0,267.5 l2.5,-2.5 l2.5,2.5 l-2.5,2.5 zM408.0,268.5 l2.5,-2.5 l2.5,2.5 l-2.5,2.5 zM409.0,269.5 l2.5,-2.5 l2.5,2.5 l-2.5,2.5 zM410.0,265.5 l2.5,-2.5 l2.5,2.5 l-2.5,2.5 zM411.0,267.5 l2.5,-2.5 l2.5,2.5 l-2.5,2.5 zM412.0,267.5 l2.5,-2.5 l2.5,2.5 l-2.5,2.5 zM413.0,268.5 l2.5,-2.5 l2.5,2.5 l-2.5,2.5 zM414.0,269.5 l2.5,-2.5 l2.5,2.5 l-2.5,2.5 zM415.0,268.5 l2.5,-2.5 l2.5,2.5 l-2.5,2.5 zM416.0,269.5 l2.5,-2.5 l2.5,2.5 l-2.5,2.5 zM417.0,269.5 l2.5,-2.5 l2.5,2.5 l-2.5,2.5 zM418.0,271.5 l2.5,-2.5 l2.5,2.5 l-2.5,2.5 zM419.0,270.5 l2.5,-2.5 l2.5,2.5 l-2.5,2.5 zM420.0,272.5 l2.5,-2.5 l2.5,2.5 l-2.5,2.5 zM421.0,271.5 l2.5,-2.5 l2.5,2.5 l-2.5,2.5 zM422.0,271.5 l2.5,-2.5 l2.5,2.5 l-2.5,2.5 zM423.0,269.5 l2.5,-2.5 l2.5,2.5 l-2.5,2.5 zM424.0,271.5 l2.5,-2.5 l2.5,2.5 l-2.5,2.5 zM425.0,270.5 l2.5,-2.5 l2.5,2.5 l-2.5,2.5 zM426.0,271.5 l2.5,-2.5 l2.5,2.5 l-2.5,2.5 zM427.0,270.5 l2.5,-2.5 l2.5,2.5 l-2.5,2.5 zM428.0,273.5 l2.5,-2.5 l2.5,2.5 l-2.5,2.5 zM429.0,274.5 l2.5,-2.5 l2.5,2.5 l-2.5,2.5 zM430.0,274.5 l2.5,-2.5 l2.5,2.5 l-2.5,2.5 zM431.0,275.5 l2.5,-2.5 l2.5,2.5 l-2.5,2.5 zM432.0,274.5 l2.5,-2.5 l2.5,2.5 l-2.5,2.5 zM433.0,273.5 l2.5,-2.5 l2.5,2.5 l-2.5,2.5 zM434.0,274.5 l2.5,-2.5 l2.5,2.5 l-2.5,2.5 zM435.0,275.5 l2.5,-2.5 l2.5,2.5 l-2.5,2.5 zM436.0,274.5 l2.5,-2.5 l2.5,2.5 l-2.5,2.5 zM437.0,273.5 l2.5,-2.5 l2.5,2.5 l-2.5,2.5 zM438.0,275.5 l2.5,-2.5 l2.5,2.5 l-2.5,2.5 zM439.0,278.5 l2.5,-2.5 l2.5,2.5 l-2.5,2.5 zM440.0,277.5 l2.5,-2.5 l2.5,2.5 l-2.5,2.5 zM441.0,276.5 l2.5,-2.5 l2.5,2.5 l-2.5,2.5 zM442.0,276.5 l2.5,-2.5 l2.5,2.5 l-2.5,2.5 zM443.0,276.5 l2.5,-2.5 l2.5,2.5 l-2.5,2.5 zM444.0,277.5 l2.5,-2.5 l2.5,2.5 l-2.5,2.5 zM445.0,278.5 l2.5,-2.5 l2.5,2.5 l-2.5,2.5 zM446.0,278.5 l2.5,-2.5 l2.5,2.5 l-2.5,2.5 zM447.0,278.5 l2.5,-2.5 l2.5,2.5 l-2.5,2.5 zM448.0,280.5 l2.5,-2.5 l2.5,2.5 l-2.5,2.5 zM449.0,279.5 l2.5,-2.5 l2.5,2.5 l-2.5,2.5 zM450.0,280.5 l2.5,-2.5 l2.5,2.5 l-2.5,2.5 zM451.0,282.5 l2.5,-2.5 l2.5,2.5 l-2.5,2.5 zM452.0,281.5 l2.5,-2.5 l2.5,2.5 l-2.5,2.5 zM453.0,282.5 l2.5,-2.5 l2.5,2.5 l-2.5,2.5 zM454.0,284.5 l2.5,-2.5 l2.5,2.5 l-2.5,2.5 zM455.0,283.5 l2.5,-2.5 l2.5,2.5 l-2.5,2.5 zM456.0,283.5 l2.5,-2.5 l2.5,2.5 l-2.5,2.5 zM457.0,283.5 l2.5,-2.5 l2.5,2.5 l-2.5,2.5 zM458.0,285.5 l2.5,-2.5 l2.5,2.5 l-2.5,2.5 zM459.0,283.5 l2.5,-2.5 l2.5,2.5 l-2.5,2.5 zM460.0,284.5 l2.5,-2.5 l2.5,2.5 l-2.5,2.5 zM461.0,285.5 l2.5,-2.5 l2.5,2.5 l-2.5,2.5 zM462.0,285.5 l2.5,-2.5 l2.5,2.5 l-2.5,2.5 zM463.0,286.5 l2.5,-2.5 l2.5,2.5 l-2.5,2.5 zM464.0,285.5 l2.5,-2.5 l2.5,2.5 l-2.5,2.5 zM465.0,287.5 l2.5,-2.5 l2.5,2.5 l-2.5,2.5 zM466.0,288.5 l2.5,-2.5 l2.5,2.5 l-2.5,2.5 zM467.0,286.5 l2.5,-2.5 l2.5,2.5 l-2.5,2.5 zM468.0,288.5 l2.5,-2.5 l2.5,2.5 l-2.5,2.5 zM469.0,287.5 l2.5,-2.5 l2.5,2.5 l-2.5,2.5 zM470.0,288.5 l2.5,-2.5 l2.5,2.5 l-2.5,2.5 zM471.0,289.5 l2.5,-2.5 l2.5,2.5 l-2.5,2.5 zM472.0,289.5 l2.5,-2.5 l2.5,2.5 l-2.5,2.5 zM473.0,289.5 l2.5,-2.5 l2.5,2.5 l-2.5,2.5 zM474.0,292.5 l2.5,-2.5 l2.5,2.5 l-2.5,2.5 zM475.0,291.5 l2.5,-2.5 l2.5,2.5 l-2.5,2.5 zM476.0,292.5 l2.5,-2.5 l2.5,2.5 l-2.5,2.5 zM477.0,292.5 l2.5,-2.5 l2.5,2.5 l-2.5,2.5 zM478.0,290.5 l2.5,-2.5 l2.5,2.5 l-2.5,2.5 zM479.0,295.5 l2.5,-2.5 l2.5,2.5 l-2.5,2.5 zM480.0,293.5 l2.5,-2.5 l2.5,2.5 l-2.5,2.5 zM481.0,293.5 l2.5,-2.5 l2.5,2.5 l-2.5,2.5 zM482.0,295.5 l2.5,-2.5 l2.5,2.5 l-2.5,2.5 zM483.0,293.5 l2.5,-2.5 l2.5,2.5 l-2.5,2.5 zM484.0,295.5 l2.5,-2.5 l2.5,2.5 l-2.5,2.5 zM485.0,296.5 l2.5,-2.5 l2.5,2.5 l-2.5,2.5 zM486.0,295.5 l2.5,-2.5 l2.5,2.5 l-2.5,2.5 zM487.0,296.5 l2.5,-2.5 l2.5,2.5 l-2.5,2.5 zM488.0,296.5 l2.5,-2.5 l2.5,2.5 l-2.5,2.5 zM489.0,296.5 l2.5,-2.5 l2.5,2.5 l-2.5,2.5 zM490.0,296.5 l2.5,-2.5 l2.5,2.5 l-2.5,2.5 zM491.0,298.5 l2.5,-2.5 l2.5,2.5 l-2.5,2.5 zM492.0,298.5 l2.5,-2.5 l2.5,2.5 l-2.5,2.5 zM493.0,299.5 l2.5,-2.5 l2.5,2.5 l-2.5,2.5 zM494.0,299.5 l2.5,-2.5 l2.5,2.5 l-2.5,2.5 zM495.0,301.5 l2.5,-2.5 l2.5,2.5 l-2.5,2.5 zM496.0,300.5 l2.5,-2.5 l2.5,2.5 l-2.5,2.5 zM497.0,300.5 l2.5,-2.5 l2.5,2.5 l-2.5,2.5 zM498.0,300.5 l2.5,-2.5 l2.5,2.5 l-2.5,2.5 zM499.0,301.5 l2.5,-2.5 l2.5,2.5 l-2.5,2.5 zM500.0,299.5 l2.5,-2.5 l2.5,2.5 l-2.5,2.5 zM501.0,298.5 l2.5,-2.5 l2.5,2.5 l-2.5,2.5 zM502.0,302.5 l2.5,-2.5 l2.5,2.5 l-2.5,2.5 zM503.0,301.5 l2.5,-2.5 l2.5,2.5 l-2.5,2.5 zM504.0,299.5 l2.5,-2.5 l2.5,2.5 l-2.5,2.5 zM505.0,301.5 l2.5,-2.5 l2.5,2.5 l-2.5,2.5 zM506.0,303.5 l2.5,-2.5 l2.5,2.5 l-2.5,2.5 zM507.0,301.5 l2.5,-2.5 l2.5,2.5 l-2.5,2.5 zM508.0,304.5 l2.5,-2.5 l2.5,2.5 l-2.5,2.5 zM509.0,303.5 l2.5,-2.5 l2.5,2.5 l-2.5,2.5 zM510.0,303.5 l2.5,-2.5 l2.5,2.5 l-2.5,2.5 zM511.0,304.5 l2.5,-2.5 l2.5,2.5 l-2.5,2.5 zM512.0,302.5 l2.5,-2.5 l2.5,2.5 l-2.5,2.5 zM513.0,304.5 l2.5,-2.5 l2.5,2.5 l-2.5,2.5 zM514.0,303.5 l2.5,-2.5 l2.5,2.5 l-2.5,2.5 zM515.0,303.5 l2.5,-2.5 l2.5,2.5 l-2.5,2.5 zM516.0,303.5 l2.5,-2.5 l2.5,2.5 l-2.5,2.5 zM517.0,305.5 l2.5,-2.5 l2.5,2.5 l-2.5,2.5 zM518.0,304.5 l2.5,-2.5 l2.5,2.5 l-2.5,2.5 zM519.0,304.5 l2.5,-2.5 l2.5,2.5 l-2.5,2.5 zM520.0,303.5 l2.5,-2.5 l2.5,2.5 l-2.5,2.5 zM521.0,303.5 l2.5,-2.5 l2.5,2.5 l-2.5,2.5 zM522.0,303.5 l2.5,-2.5 l2.5,2.5 l-2.5,2.5 zM523.0,303.5 l2.5,-2.5 l2.5,2.5 l-2.5,2.5 zM524.0,303.5 l2.5,-2.5 l2.5,2.5 l-2.5,2.5 zM525.0,305.5 l2.5,-2.5 l2.5,2.5 l-2.5,2.5 zM526.0,304.5 l2.5,-2.5 l2.5,2.5 l-2.5,2.5 zM527.0,304.5 l2.5,-2.5 l2.5,2.5 l-2.5,2.5 zM528.0,303.5 l2.5,-2.5 l2.5,2.5 l-2.5,2.5 zM529.0,303.5 l2.5,-2.5 l2.5,2.5 l-2.5,2.5 zM530.0,302.5 l2.5,-2.5 l2.5,2.5 l-2.5,2.5 zM531.0,304.5 l2.5,-2.5 l2.5,2.5 l-2.5,2.5 zM532.0,303.5 l2.5,-2.5 l2.5,2.5 l-2.5,2.5 zM533.0,304.5 l2.5,-2.5 l2.5,2.5 l-2.5,2.5 zM534.0,302.5 l2.5,-2.5 l2.5,2.5 l-2.5,2.5 zM535.0,302.5 l2.5,-2.5 l2.5,2.5 l-2.5,2.5 zM536.0,304.5 l2.5,-2.5 l2.5,2.5 l-2.5,2.5 zM537.0,302.5 l2.5,-2.5 l2.5,2.5 l-2.5,2.5 zM538.0,301.5 l2.5,-2.5 l2.5,2.5 l-2.5,2.5 zM539.0,301.5 l2.5,-2.5 l2.5,2.5 l-2.5,2.5 zM540.0,303.5 l2.5,-2.5 l2.5,2.5 l-2.5,2.5 zM541.0,304.5 l2.5,-2.5 l2.5,2.5 l-2.5,2.5 zM542.0,302.5 l2.5,-2.5 l2.5,2.5 l-2.5,2.5 zM543.0,302.5 l2.5,-2.5 l2.5,2.5 l-2.5,2.5 zM544.0,302.5 l2.5,-2.5 l2.5,2.5 l-2.5,2.5 zM545.0,303.5 l2.5,-2.5 l2.5,2.5 l-2.5,2.5 zM546.0,300.5 l2.5,-2.5 l2.5,2.5 l-2.5,2.5 zM547.0,303.5 l2.5,-2.5 l2.5,2.5 l-2.5,2.5 zM548.0,301.5 l2.5,-2.5 l2.5,2.5 l-2.5,2.5 zM549.0,301.5 l2.5,-2.5 l2.5,2.5 l-2.5,2.5 zM550.0,302.5 l2.5,-2.5 l2.5,2.5 l-2.5,2.5 zM551.0,302.5 l2.5,-2.5 l2.5,2.5 l-2.5,2.5 zM552.0,300.5 l2.5,-2.5 l2.5,2.5 l-2.5,2.5 zM553.0,300.5 l2.5,-2.5 l2.5,2.5 l-2.5,2.5 zM554.0,302.5 l2.5,-2.5 l2.5,2.5 l-2.5,2.5 zM555.0,301.5 l2.5,-2.5 l2.5,2.5 l-2.5,2.5 zM556.0,300.5 l2.5,-2.5 l2.5,2.5 l-2.5,2.5 zM557.0,301.5 l2.5,-2.5 l2.5,2.5 l-2.5,2.5 zM558.0,301.5 l2.5,-2.5 l2.5,2.5 l-2.5,2.5 zM559.0,303.5 l2.5,-2.5 l2.5,2.5 l-2.5,2.5 zM560.0,300.5 l2.5,-2.5 l2.5,2.5 l-2.5,2.5 zM561.0,300.5 l2.5,-2.5 l2.5,2.5 l-2.5,2.5 zM562.0,298.5 l2.5,-2.5 l2.5,2.5 l-2.5,2.5 zM563.0,301.5 l2.5,-2.5 l2.5,2.5 l-2.5,2.5 zM564.0,301.5 l2.5,-2.5 l2.5,2.5 l-2.5,2.5 zM565.0,298.5 l2.5,-2.5 l2.5,2.5 l-2.5,2.5 zM566.0,298.5 l2.5,-2.5 l2.5,2.5 l-2.5,2.5 zM567.0,300.5 l2.5,-2.5 l2.5,2.5 l-2.5,2.5 zM568.0,299.5 l2.5,-2.5 l2.5,2.5 l-2.5,2.5 zM569.0,297.5 l2.5,-2.5 l2.5,2.5 l-2.5,2.5 zM570.0,299.5 l2.5,-2.5 l2.5,2.5 l-2.5,2.5 zM571.0,298.5 l2.5,-2.5 l2.5,2.5 l-2.5,2.5 zM572.0,299.5 l2.5,-2.5 l2.5,2.5 l-2.5,2.5 zM573.0,299.5 l2.5,-2.5 l2.5,2.5 l-2.5,2.5 zM574.0,301.5 l2.5,-2.5 l2.5,2.5 l-2.5,2.5 zM575.0,299.5 l2.5,-2.5 l2.5,2.5 l-2.5,2.5 zM576.0,301.5 l2.5,-2.5 l2.5,2.5 l-2.5,2.5 zM577.0,300.5 l2.5,-2.5 l2.5,2.5 l-2.5,2.5 zM578.0,301.5 l2.5,-2.5 l2.5,2.5 l-2.5,2.5 zM579.0,301.5 l2.5,-2.5 l2.5,2.5 l-2.5,2.5 zM580.0,301.5 l2.5,-2.5 l2.5,2.5 l-2.5,2.5 zM581.0,300.5 l2.5,-2.5 l2.5,2.5 l-2.5,2.5 zM582.0,300.5 l2.5,-2.5 l2.5,2.5 l-2.5,2.5 zM583.0,302.5 l2.5,-2.5 l2.5,2.5 l-2.5,2.5 zM584.0,300.5 l2.5,-2.5 l2.5,2.5 l-2.5,2.5 zM585.0,301.5 l2.5,-2.5 l2.5,2.5 l-2.5,2.5 zM586.0,300.5 l2.5,-2.5 l2.5,2.5 l-2.5,2.5 zM587.0,300.5 l2.5,-2.5 l2.5,2.5 l-2.5,2.5 zM588.0,300.5 l2.5,-2.5 l2.5,2.5 l-2.5,2.5 zM589.0,300.5 l2.5,-2.5 l2.5,2.5 l-2.5,2.5 zM590.0,301.5 l2.5,-2.5 l2.5,2.5 l-2.5,2.5 zM591.0,301.5 l2.5,-2.5 l2.5,2.5 l-2.5,2.5 zM592.0,302.5 l2.5,-2.5 l2.5,2.5 l-2.5,2.5 zM593.0,300.5 l2.5,-2.5 l2.5,2.5 l-2.5,2.5 zM594.0,301.5 l2.5,-2.5 l2.5,2.5 l-2.5,2.5 zM595.0,299.5 l2.5,-2.5 l2.5,2.5 l-2.5,2.5 zM596.0,301.5 l2.5,-2.5 l2.5,2.5 l-2.5,2.5 zM597.0,302.5 l2.5,-2.5 l2.5,2.5 l-2.5,2.5 zM598.0,300.5 l2.5,-2.5 l2.5,2.5 l-2.5,2.5 zM599.0,300.5 l2.5,-2.5 l2.5,2.5 l-2.5,2.5 zM600.0,301.5 l2.5,-2.5 l2.5,2.5 l-2.5,2.5 zM601.0,300.5 l2.5,-2.5 l2.5,2.5 l-2.5,2.5 zM602.0,303.5 l2.5,-2.5 l2.5,2.5 l-2.5,2.5 zM603.0,299.5 l2.5,-2.5 l2.5,2.5 l-2.5,2.5 zM604.0,301.5 l2.5,-2.5 l2.5,2.5 l-2.5,2.5 zM605.0,300.5 l2.5,-2.5 l2.5,2.5 l-2.5,2.5 zM606.0,300.5 l2.5,-2.5 l2.5,2.5 l-2.5,2.5 zM607.0,302.5 l2.5,-2.5 l2.5,2.5 l-2.5,2.5 zM608.0,301.5 l2.5,-2.5 l2.5,2.5 l-2.5,2.5 zM609.0,299.5 l2.5,-2.5 l2.5,2.5 l-2.5,2.5 zM610.0,302.5 l2.5,-2.5 l2.5,2.5 l-2.5,2.5 zM611.0,300.5 l2.5,-2.5 l2.5,2.5 l-2.5,2.5 zM612.0,301.5 l2.5,-2.5 l2.5,2.5 l-2.5,2.5 zM613.0,302.5 l2.5,-2.5 l2.5,2.5 l-2.5,2.5 zM614.0,302.5 l2.5,-2.5 l2.5,2.5 l-2.5,2.5 zM615.0,302.5 l2.5,-2.5 l2.5,2.5 l-2.5,2.5 z" fill="#333333" stroke="none" shape-rendering="crispEdges"/><rect x="97" y="65" width="1" height="1" fill="#fff" shape-rendering="crispEdges"/>
<path d="M96.50,63.65 L97.50,63.82 L98.50,63.99 L99.50,64.16 L100.50,64.35 L101.50,64.53 L102.50,64.73 L103.50,64.93 L104.50,65.15 L105.50,65.38 L106.50,65.62 L107.50,65.87 L108.50,66.14 L109.50,66.43 L110.50,66.73 L111.50,67.05 L112.50,67.39 L113.50,67.74 L114.50,68.11 L115.50,68.49 L116.50,68.89 L117.50,69.30 L118.50,69.73 L119.50,70.17 L120.50,70.63 L121.50,71.11 L122.50,71.61 L123.50,72.12 L124.50,72.65 L125.50,73.19 L126.50,73.74 L127.50,74.31 L128.50,74.90 L129.50,75.51 L130.50,76.13 L131.50,76.78 L132.50,77.44 L133.50,78.12 L134.50,78.81 L135.50,79.52 L136.50,80.23 L137.50,80.96 L138.50,81.70 L139.50,82.45 L140.50,83.23 L141.50,84.04 L142.50,84.85 L143.50,85.67 L144.50,86.49 L145.50,87.31 L146.50,88.15 L147.50,88.98 L148.50,89.83 L149.50,90.69 L150.50,91.55 L151.50,92.40 L152.50,93.27 L153.50,94.15 L154.50,95.05 L155.50,95.96 L156.50,96.88 L157.50,97.82 L158.50,98.77 L159.50,99.73 L160.50,100.68 L161.50,101.63 L162.50,102.58 L163.50,103.54 L164.50,104.51 L165.50,105.48 L166.50,106.46 L167.50,107.45 L168.50,108.44 L169.50,109.43 L170.50,110.43 L171.50,111.43 L172.50,112.43 L173.50,113.44 L174.50,114.44 L175.50,115.44 L176.50,116.45 L177.50,117.45 L178.50,118.45 L179.50,119.45 L180.50,120.45 L181.50,121.44 L182.50,122.44 L183.50,123.43 L184.50,124.42 L185.50,125.41 L186.50,126.41 L187.50,127.40 L188.50,128.40 L189.50,129.41 L190.50,130.40 L191.50,131.39 L192.50,132.38 L193.50,133.37 L194.50,134.37 L195.50,135.38 L196.50,136.40 L197.50,137.42 L198.50,138.45 L199.50,139.48 L200.50,140.52 L201.50,141.57 L202.50,142.62 L203.50,143.68 L204.50,144.74 L205.50,145.80 L206.50,146.87 L207.50,147.94 L208.50,149.02 L209.50,150.10 L210.50,151.19 L211.50,152.28 L212.50,153.39 L213.50,154.50 L214.50,155.62 L215.50,156.74 L216.50,157.88 L217.50,159.02 L218.50,160.18 L219.50,161.34 L220.50,162.50 L221.50,163.67 L222.50,164.83 L223.50,165.98 L224.50,167.13 L225.50,168.25 L226.50,169.37 L227.50,170.47 L228.50,171.56 L229.50,172.63 L230.50,173.70 L231.50,174.76 L232.50,175.82 L233.50,176.87 L234.50,177.91 L235.50,178.96 L236.50,180.01 L237.50,181.06 L238.50,182.11 L239.50,183.17 L240.50,184.23 L241.50,185.28 L242.50,186.33 L243.50,187.38 L244.50,188.43 L245.50,189.48 L246.50,190.54 L247.50,191.60 L248.50,192.66 L249.50,193.72 L250.50,194.78 L251.50,195.85 L252.50,196.91 L253.50,197.97 L254.50,199.04 L255.50,200.13 L256.50,201.26 L257.50,202.38 L258.50,203.50 L259.50,204.61 L260.50,205.71 L261.50,206.81 L262.50,207.90 L263.50,208.98 L264.50,210.05 L265.50,211.13 L266.50,212.21 L267.50,213.29 L268.50,214.36 L269.50,215.45 L270.50,216.53 L271.50,217.62 L272.50,218.73 L273.50,219.84 L274.50,220.96 L275.50,222.10 L276.50,223.25 L277.50,224.41 L278.50,225.59 L279.50,226.76 L280.50,227.95 L281.50,229.13 L282.50,230.31 L283.50,231.49 L284.50,232.66 L285.50,233.82 L286.50,234.96 L287.50,236.10 L288.50,237.21 L289.50,238.31 L290.50,239.39 L291.50,240.45 L292.50,241.47 L293.50,242.49 L294.50,243.49 L295.50,244.48 L296.50,245.47 L297.50,246.45 L298.50,247.43 L299.50,248.40 L300.50,249.36 L301.50,250.33 L302.50,251.28 L303.50,252.23 L304.50,253.17 L305.50,254.09 L306.50,255.00 L307.50,255.90 L308.50,256.78 L309.50,257.64 L310.50,258.49 L311.50,259.31 L312.50,260.10 L313.50,260.87 L314.50,261.61 L315.50,262.32 L316.50,262.99 L317.50,263.63 L318.50,264.24 L319.50,264.80 L320.50,265.34 L321.50,265.84 L322.50,266.32 L323.50,266.77 L324.50,267.19 L325.50,267.60 L326.50,267.99 L327.50,268.35 L328.50,268.68 L329.50,268.97 L330.50,269.22 L331.50,269.42 L332.50,269.58 L333.50,269.71 L334.50,269.81 L335.50,269.88 L336.50,269.94 L337.50,269.98 L338.50,270.00 L339.50,270.01 L340.50,270.01 L341.50,270.01 L342.50,270.00 L343.50,269.99 L344.50,269.98 L345.50,269.97 L346.50,269.96 L347.50,269.95 L348.50,269.92 L349.50,269.90 L350.50,269.86 L351.50,269.82 L352.50,269.77 L353.50,269.71 L354.50,269.64 L355.50,269.56 L356.50,269.46 L357.50,269.36 L358.50,269.24 L359.50,269.12 L360.50,268.99 L361.50,268.86 L362.50,268.72 L363.50,268.58 L364.50,268.43 L365.50,268.29 L366.50,268.14 L367.50,268.00 L368.50,267.86 L369.50,267.72 L370.50,267.59 L371.50,267.46 L372.50,267.33 L373.50,267.21 L374.50,267.10 L375.50,266.99 L376.50,266.89 L377.50,266.79 L378.50,266.71 L379.50,266.63 L380.50,266.57 L381.50,266.51 L382.50,266.46 L383.50,266.43 L384.50,266.40 L385.50,266.38 L386.50,266.37 L387.50,266.37 L388.50,266.38 L389.50,266.40 L390.50,266.42 L391.50,266.46 L392.50,266.50 L393.50,266.55 L394.50,266.61 L395.50,266.68 L396.50,266.76 L397.50,266.84 L398.50,266.93 L399.50,267.03 L400.50,267.14 L401.50,267.25 L402.50,267.37 L403.50,267.50 L404.50,267.63 L405.50,267.77 L406.50,267.92 L407.50,268.07 L408.50,268.22 L409.50,268.39 L410.50,268.56 L411.50,268.73 L412.50,268.91 L413.50,269.10 L414.50,269.29 L415.50,269.49 L416.50,269.69 L417.50,269.90 L418.50,270.12 L419.50,270.34 L420.50,270.56 L421.50,270.79 L422.50,271.03 L423.50,271.27 L424.50,271.51 L425.50,271.75 L426.50,272.00 L427.50,272.26 L428.50,272.51 L429.50,272.77 L430.50,273.03 L431.50,273.29 L432.50,273.56 L433.50,273.82 L434.50,274.09 L435.50,274.36 L436.50,274.63 L437.50,274.90 L438.50,275.18 L439.50,275.45 L440.50,275.73 L441.50,276.01 L442.50,276.29 L443.50,276.57 L444.50,276.86 L445.50,277.14 L446.50,277.43 L447.50,277.72 L448.50,278.01 L449.50,278.30 L450.50,278.60 L451.50,278.90 L452.50,279.20 L453.50,279.50 L454.50,279.81 L455.50,280.12 L456.50,280.43 L457.50,280.75 L458.50,281.07 L459.50,281.40 L460.50,281.73 L461.50,282.06 L462.50,282.40 L463.50,282.74 L464.50,283.08 L465.50,283.42 L466.50,283.77 L467.50,284.12 L468.50,284.47 L469.50,284.82 L470.50,285.18 L471.50,285.53 L472.50,285.89 L473.50,286.25 L474.50,286.61 L475.50,286.97 L476.50,287.33 L477.50,287.69 L478.50,288.05 L479.50,288.41 L480.50,288.77 L481.50,289.14 L482.50,289.50 L483.50,289.86 L484.50,290.23 L485.50,290.59 L486.50,290.95 L487.50,291.31 L488.50,291.68 L489.50,292.04 L490.50,292.40 L491.50,292.75 L492.50,293.11 L493.50,293.47 L494.50,293.82 L495.50,294.18 L496.50,294.53 L497.50,294.88 L498.50,295.22 L499.50,295.57 L500.50,295.91 L501.50,296.25 L502.50,296.59 L503.50,296.93 L504.50,297.26 L505.50,297.60 L506.50,297.92 L507.50,298.25 L508.50,298.57 L509.50,298.89 L510.50,299.21 L511.50,299.53 L512.50,299.84 L513.50,300.16 L514.50,300.47 L515.50,300.78 L516.50,301.10 L517.50,301.41 L518.50,301.73 L519.50,302.04 L520.50,302.36 L521.50,302.68 L522.50,302.99 L523.50,303.31 L524.50,303.62 L525.50,303.92 L526.50,304.21 L527.50,304.50 L528.50,304.77 L529.50,305.03 L530.50,305.27 L531.50,305.50 L532.50,305.71 L533.50,305.91 L534.50,306.10 L535.50,306.28 L536.50,306.45 L537.50,306.61 L538.50,306.76 L539.50,306.91 L540.50,307.05 L541.50,307.18 L542.50,307.30 L543.50,307.41 L544.50,307.51 L545.50,307.61 L546.50,307.69 L547.50,307.76 L548.50,307.82 L549.50,307.87 L550.50,307.91 L551.50,307.95 L552.50,307.97 L553.50,307.98 L554.50,308.00 L555.50,308.00 L556.50,308.00 L557.50,308.00 L558.50,308.00 L559.50,307.99 L560.50,307.98 L561.50,307.97 L562.50,307.95 L563.50,307.93 L564.50,307.90 L565.50,307.86 L566.50,307.82 L567.50,307.77 L568.50,307.71 L569.50,307.65 L570.50,307.58 L571.50,307.50 L572.50,307.42 L573.50,307.34 L574.50,307.26 L575.50,307.17 L576.50,307.08 L577.50,306.99 L578.50,306.90 L579.50,306.81 L580.50,306.72 L581.50,306.63 L582.50,306.55 L583.50,306.46 L584.50,306.38 L585.50,306.31 L586.50,306.24 L587.50,306.17 L588.50,306.10 L589.50,306.04 L590.50,305.98 L591.50,305.92 L592.50,305.86 L593.50,305.79 L594.50,305.73 L595.50,305.67 L596.50,305.60 L597.50,305.53 L598.50,305.46 L599.50,305.40 L600.50,305.33 L601.50,305.27 L602.50,305.20 L603.50,305.15 L604.50,305.09 L605.50,305.05 L606.50,305.01 L607.50,304.97 L608.50,304.93 L609.50,304.90 L610.50,304.88 L611.50,304.85 L612.50,304.83 L613.50,304.81 L614.50,304.80 L615.50,304.78 L616.50,304.76 L617.50,304.75" fill="none" stroke="#e26261" stroke-width="2.5" stroke-linejoin="round" stroke-linecap="butt" shape-rendering="crispEdges"/>
<text x="77.90" y="446.20" font-size="16.5" fill="#808080" text-anchor="middle" letter-spacing="0.8">0</text><text x="131.90" y="446.20" font-size="16.5" fill="#808080" text-anchor="middle" letter-spacing="0.8">0.05</text><text x="186.90" y="446.20" font-size="16.5" fill="#808080" text-anchor="middle" letter-spacing="0.8">0.1</text><text x="239.90" y="446.20" font-size="16.5" fill="#808080" text-anchor="middle" letter-spacing="0.8">0.15</text><text x="294.90" y="446.20" font-size="16.5" fill="#808080" text-anchor="middle" letter-spacing="0.8">0.2</text><text x="347.90" y="446.20" font-size="16.5" fill="#808080" text-anchor="middle" letter-spacing="0.8">0.25</text><text x="402.90" y="446.20" font-size="16.5" fill="#808080" text-anchor="middle" letter-spacing="0.8">0.3</text><text x="455.90" y="446.20" font-size="16.5" fill="#808080" text-anchor="middle" letter-spacing="0.8">0.35</text><text x="510.90" y="446.20" font-size="16.5" fill="#808080" text-anchor="middle" letter-spacing="0.8">0.4</text><text x="563.90" y="446.20" font-size="16.5" fill="#808080" text-anchor="middle" letter-spacing="0.8">0.45</text><text x="618.90" y="446.20" font-size="16.5" fill="#808080" text-anchor="middle" letter-spacing="0.8">0.5</text><text x="36.20" y="29.20" font-size="16.5" fill="#808080" text-anchor="start" letter-spacing="0.8">10</text><text x="57.00" y="23.20" font-size="13" fill="#808080" text-anchor="start" >3</text><text x="36.20" y="132.90" font-size="16.5" fill="#808080" text-anchor="start" letter-spacing="0.8">10</text><text x="57.00" y="126.90" font-size="13" fill="#808080" text-anchor="start" >2</text><text x="36.20" y="236.60" font-size="16.5" fill="#808080" text-anchor="start" letter-spacing="0.8">10</text><text x="57.00" y="230.60" font-size="13" fill="#808080" text-anchor="start" >1</text><text x="36.20" y="340.30" font-size="16.5" fill="#808080" text-anchor="start" letter-spacing="0.8">10</text><text x="57.00" y="334.30" font-size="13" fill="#808080" text-anchor="start" >0</text>
<text x="427.0" y="42.9" font-size="16.5" fill="#000" letter-spacing="1.0">Experimental</text>
<text x="410.3 419.0 428.1 439.0" y="62.3" font-size="16.5" fill="#000">FoXS</text>
<text x="454.6" y="62.3" font-size="16.5" fill="#000">χ</text>
<text x="467.0" y="56.4" font-size="12.5" fill="#000">2</text>
<path d="M481.7,55.45 H492.4 M481.7,58.75 H492.4" stroke="#000" stroke-width="1.3" fill="none"/>
<text x="498.2" y="62.3" font-size="16.5" fill="#000" letter-spacing="0.8">10.5</text>
<path d="M569,38.5 l2.5,-2.5 l2.5,2.5 l-2.5,2.5 z" fill="#333333" shape-rendering="crispEdges"/><rect x="571" y="38" width="1" height="1" fill="#fff" shape-rendering="crispEdges"/>
<line x1="546" y1="56.9" x2="596" y2="56.9" stroke="#e26261" stroke-width="2.4"/>
<text transform="translate(27,232.8) rotate(-90)" font-size="16.5" fill="#000" letter-spacing="0.72">I(q) log-scale</text>
<text transform="translate(48.9,413.2) rotate(-90)" font-size="16.5" fill="#000" letter-spacing="0.68">Residual</text>
<text x="319.5" y="473.4" font-size="16.5" fill="#000" letter-spacing="0.8">q [Å<tspan font-size="13" dy="-6.2" dx="2">-1</tspan><tspan dy="6.2" dx="3">]</tspan></text>
</svg>
</body></html>
